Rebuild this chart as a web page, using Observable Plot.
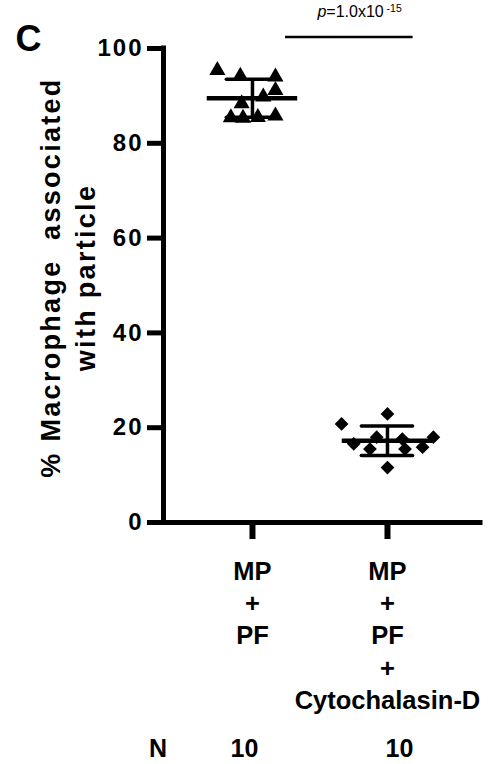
<!DOCTYPE html>
<html><head><meta charset="utf-8">
<script src="https://cdn.jsdelivr.net/npm/d3@7"></script>
<script src="https://cdn.jsdelivr.net/npm/@observablehq/plot@0.6"></script>
<style>body{margin:0;background:#fff;}</style>
</head><body><div id="chart"></div>
<script>
// ---- data ----
const groups = [1, 2];
const groupLabels = ["MP\n+\nPF", "MP\n+\nPF\n+\nCytochalasin-D"];
const yTicks = [0, 20, 40, 60, 80, 100];
const mpPf = [95.4, 94.2, 94.0, 91.2, 89.8, 88.4, 85.4, 85.3, 85.5, 85.8];
const mpPfJitter = [-0.26, -0.09, 0.17, 0.17, 0.08, -0.08, -0.16, -0.07, 0.04, 0.17];
const mpPfCyto = [20.8, 22.9, 16.6, 18.0, 15.5, 17.6, 15.5, 15.9, 18.0, 11.6];
const mpPfCytoJitter = [-0.34, 0.0, -0.25, -0.08, -0.13, 0.11, 0.13, 0.26, 0.34, 0.0];
const pSymbol = "p";
const pMantissa = "1.0x10";
const pExponent = "-15";
const panelLabel = "C";
const yTitle = "% Macrophage  associated\nwith particle";
const nLabel = "N";

// ---- derived tables ----
const pts1 = mpPf.map((v, i) => ({x: groups[0] + mpPfJitter[i], y: v}));
const pts2 = mpPfCyto.map((v, i) => ({x: groups[1] + mpPfCytoJitter[i], y: v}));
const stats = [[groups[0], mpPf], [groups[1], mpPfCyto]].map(([g, v]) => ({g, mean: d3.mean(v), sd: d3.deviation(v), n: v.length}));

const xDomain = [0.341, 2.689];
const font = "'Liberation Sans', Arial, Helvetica, sans-serif";

const plot = Plot.plot({
  width: 491, height: 764,
  marginLeft: 163, marginRight: 11, marginTop: 48, marginBottom: 242,
  style: {fontFamily: font, fontWeight: "bold", color: "#000", background: "#fff", overflow: "visible"},
  x: {type: "linear", domain: xDomain, label: null},
  y: {domain: [0, 100], label: null},
  marks: [
    Plot.axisY({ticks: yTicks, tickSize: 16, tickPadding: 4, strokeWidth: 5, fontSize: 24, label: null}),
    Plot.axisX({ticks: groups, tickSize: 17, tickPadding: 17, strokeWidth: 6, fontSize: 25.5, lineHeight: 1.27, tickFormat: d => groupLabels[d - 1], label: null}),
    Plot.ruleX([xDomain[0]], {y1: 0, y2: 100, strokeWidth: 5, strokeLinecap: "square"}),
    Plot.ruleY([0], {strokeWidth: 5, strokeLinecap: "square"}),
    Plot.dot(pts1, {x: "x", y: "y", symbol: "triangle", r: 6, fill: "black", stroke: "none"}),
    Plot.dot(pts2, {x: "x", y: "y", symbol: "diamond2", r: 6.2, fill: "black", stroke: "none"}),
    Plot.ruleY(stats, {y: "mean", x1: d => d.g - 0.335, x2: d => d.g + 0.335, strokeWidth: 4.5}),
    Plot.ruleY(stats, {y: d => d.mean + d.sd, x1: d => d.g - 0.19, x2: d => d.g + 0.19, strokeWidth: 3.5, strokeLinecap: "round"}),
    Plot.ruleY(stats, {y: d => d.mean - d.sd, x1: d => d.g - 0.19, x2: d => d.g + 0.19, strokeWidth: 3.5, strokeLinecap: "round"}),
    Plot.ruleX(stats, {x: "g", y1: d => d.mean - d.sd, y2: d => d.mean + d.sd, strokeWidth: 3.5}),
    // significance bracket
    Plot.ruleY([102.4], {x1: 1.245, x2: 2.19, strokeWidth: 2.5}),
    Plot.text([pSymbol], {x: 1.481, y: 106.6, textAnchor: "start", lineAnchor: "bottom", fontSize: 16, fontWeight: "normal", ariaDescription: "p-value"}),
    // panel letter
    Plot.text([panelLabel], {frameAnchor: "top-left", dx: -148, dy: 2, textAnchor: "start", lineAnchor: "bottom", fontSize: 36}),
    // y title
    Plot.text([yTitle], {frameAnchor: "left", rotate: -90, dx: -97, dy: -8, fontSize: 27, lineHeight: 1.3, textAnchor: "middle", ariaDescription: "y-title"}),
    // N row
    Plot.text([nLabel], {frameAnchor: "bottom-left", dx: -14.5, dy: 234, fontSize: 25}),
    Plot.text([stats[0]], {x: "g", text: "n", frameAnchor: "bottom", dx: -8, dy: 234, fontSize: 25}),
    Plot.text([stats[1]], {x: "g", text: "n", frameAnchor: "bottom", dx: 12, dy: 234, fontSize: 25})
  ]
});

document.getElementById("chart").appendChild(plot);

const svg = d3.select(plot);
svg.selectAll('g[aria-label="y-axis tick label"] text').attr("letter-spacing", 2);
svg.selectAll('g[aria-description="y-title"] text').attr("letter-spacing", 2.3);
const pText = svg.select('g[aria-description="p-value"] text');
pText.text(null);
pText.append("tspan").attr("font-style", "italic").text(pSymbol);
pText.append("tspan").text("=" + pMantissa);
pText.append("tspan").attr("font-size", 10.5).attr("dy", -5).text("\u00a0" + pExponent);
</script>
</body></html>
